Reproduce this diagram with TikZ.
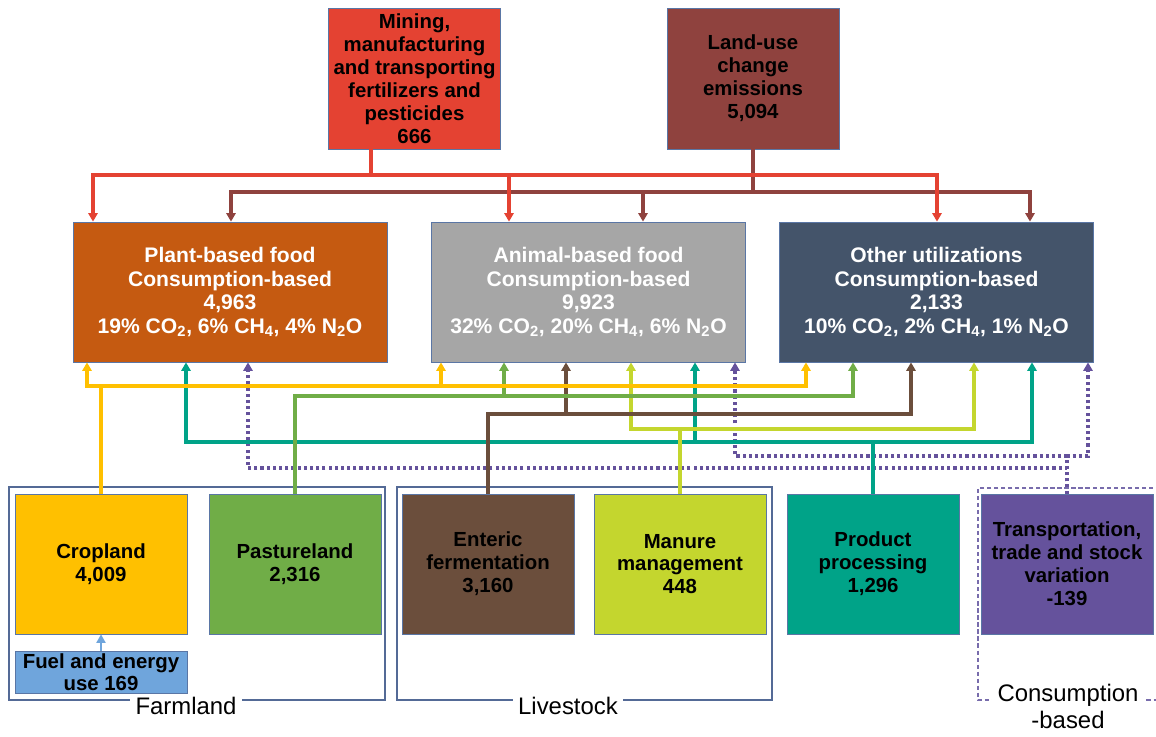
\documentclass[tikz,border=0pt]{standalone}
\usepackage{fontspec}
\setmainfont{Liberation Sans}
\usetikzlibrary{arrows.meta}

\definecolor{minered}{RGB}{228,66,50}
\definecolor{landbrown}{RGB}{143,66,62}
\definecolor{plantor}{RGB}{197,90,17}
\definecolor{animgray}{RGB}{166,166,166}
\definecolor{otherslate}{RGB}{68,84,106}
\definecolor{cropyel}{RGB}{255,192,0}
\definecolor{pastgreen}{RGB}{112,173,71}
\definecolor{entbrown}{RGB}{107,78,60}
\definecolor{manlime}{RGB}{196,214,46}
\definecolor{prodteal}{RGB}{0,163,136}
\definecolor{transpurp}{RGB}{101,82,156}
\definecolor{fuelblue}{RGB}{111,165,220}
\definecolor{edgeblue}{RGB}{90,118,165}
\definecolor{framegray}{RGB}{84,106,150}
\definecolor{dashpurp}{RGB}{120,108,172}

\tikzstyle{box}=[rectangle, draw=edgeblue, line width=0.5pt, inner sep=0pt,
  align=center, font=\bfseries\fontsize{14.5}{16.3}\selectfont]
\tikzstyle{source}=[box, minimum width=4.3cm, minimum height=3.525cm]
\tikzstyle{total}=[box, minimum width=7.85cm, minimum height=3.5cm,
  text=white, font=\bfseries\fontsize{15}{16.7}\selectfont]
\tikzstyle{sector}=[box, minimum width=4.3cm, minimum height=3.5cm]
\tikzstyle{group}=[draw=framegray, line width=0.8pt]
\tikzstyle{cgroup}=[draw=dashpurp, line width=0.8pt, dash pattern=on 3pt off 2pt]
\tikzstyle{grouplabel}=[fill=white, inner xsep=4pt, inner ysep=1pt,
  align=center, font=\fontsize{17}{19.2}\selectfont]
\tikzstyle{arrlink}=[-{Triangle[length=6pt,width=6.5pt]}, line width=2.2pt]
\tikzstyle{dotlink}=[arrlink, draw=transpurp, dash pattern=on 2.2pt off 2.2pt]

\begin{document}
\begin{tikzpicture}[x=0.025cm, y=-0.025cm]
\useasboundingbox (0,0) rectangle (1156,736);

% groups
\draw[group] (9,487) rectangle (385,700);
\node[grouplabel] (farmlab) at (186,706) {Farmland};
\draw[group] (397,487) rectangle (772,700);
\node[grouplabel] (livelab) at (568,706) {Livestock};
\draw[cgroup] (1160,488) -- (978,488) -- (978,700) -- (1160,700);
\node[grouplabel] (conslab) at (1068,706) {Consumption\\-based};

% emission sources
\node[source, fill=minered] (mine) at (414.5,78.5)
  {Mining,\\manufacturing\\and transporting\\fertilizers and\\pesticides\\666};
\node[source, fill=landbrown] (land) at (753,78.5)
  {Land-use\\change\\emissions\\5,094};

% consumption-based totals
\node[total, fill=plantor] (plant) at (230,292)
  {Plant-based food\\Consumption-based\\4,963\\
   19\% CO\textsubscript{2}, 6\% CH\textsubscript{4}, 4\% N\textsubscript{2}O};
\node[total, fill=animgray] (animal) at (588.5,292)
  {Animal-based food\\Consumption-based\\9,923\\
   32\% CO\textsubscript{2}, 20\% CH\textsubscript{4}, 6\% N\textsubscript{2}O};
\node[total, fill=otherslate] (other) at (936.5,292)
  {Other utilizations\\Consumption-based\\2,133\\
   10\% CO\textsubscript{2}, 2\% CH\textsubscript{4}, 1\% N\textsubscript{2}O};

% sectors
\node[sector, fill=cropyel] (crop) at (101,564) {Cropland\\4,009};
\node[sector, fill=pastgreen] (past) at (295,564) {Pastureland\\2,316};
\node[sector, fill=entbrown] (ent) at (488,564) {Enteric\\fermentation\\3,160};
\node[sector, fill=manlime] (man) at (680,564) {Manure\\management\\448};
\node[sector, fill=prodteal] (prod) at (873,564) {Product\\processing\\1,296};
\node[sector, fill=transpurp] (trans) at (1067,564)
  {Transportation,\\trade and stock\\variation\\-139};
\node[box, fill=fuelblue, minimum width=4.3cm, minimum height=1.05cm,
  font=\bfseries\fontsize{14.5}{15.6}\selectfont] (fuel) at (101,672)
  {Fuel and energy\\use 169};

% junctions
\coordinate (mj) at (371,175);
\coordinate (lj) at (753,192);
\coordinate (cj) at (101,386);
\coordinate (pj) at (295,396);
\coordinate (ej) at (488,414);
\coordinate (mnj) at (680,429);
\coordinate (prj) at (873,442);
\coordinate (tj) at (1067,456);
\coordinate (tjlow) at (1067,468);

% sources to totals
\foreach \x/\t in {231/plant, 643/animal, 1030/other}
  \draw[arrlink, landbrown] (land) -- (lj) -| (\t.north -| \x,0);
\foreach \x/\t in {93/plant, 509/animal, 937/other}
  \draw[arrlink, minered] (mine.south -| mj) -- (mj) -| (\t.north -| \x,0);

% sectors to totals
\draw[dotlink] (trans) -- (tjlow) -| (plant.south -| 248,0);
\draw[dotlink] (trans) -- (tj) -| (animal.south -| 735,0);
\draw[dotlink] (trans) -- (tj) -| (other.south -| 1088,0);
\foreach \x/\t in {186/plant, 695/animal, 1032/other}
  \draw[arrlink, prodteal] (prod) -- (prj) -| (\t.south -| \x,0);
\foreach \x/\t in {631/animal, 974/other}
  \draw[arrlink, manlime] (man) -- (mnj) -| (\t.south -| \x,0);
\foreach \x/\t in {566/animal, 911/other}
  \draw[arrlink, entbrown] (ent) -- (ej) -| (\t.south -| \x,0);
\foreach \x/\t in {504/animal, 853/other}
  \draw[arrlink, pastgreen] (past) -- (pj) -| (\t.south -| \x,0);
\foreach \x/\t in {87/plant, 441/animal, 806/other}
  \draw[arrlink, cropyel] (crop) -- (cj) -| (\t.south -| \x,0);

\draw[arrlink, fuelblue, line width=1pt] (fuel) -- (crop);

\end{tikzpicture}
\end{document}
